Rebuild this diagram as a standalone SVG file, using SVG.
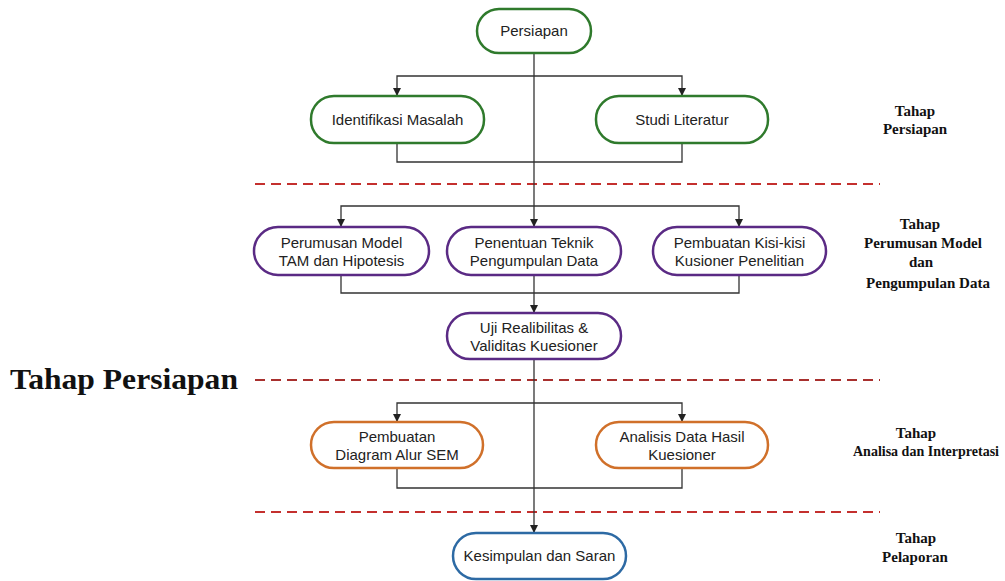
<svg xmlns="http://www.w3.org/2000/svg" width="1005" height="581" viewBox="0 0 1005 581">
<defs>
<marker id="ah" markerWidth="8" markerHeight="8" refX="8" refY="4" orient="auto" markerUnits="userSpaceOnUse">
<path d="M0,0 L8,4 L0,8 Z" fill="#222"/>
</marker>
<style>
.n{fill:#fff;stroke-width:2.5}
.g{stroke:#2f7a2c}
.p{stroke:#5a2a84}
.o{stroke:#d0702a}
.b{stroke:#2d6aa4}
.t{font-family:"Liberation Sans",Arial,sans-serif;font-size:15px;fill:#222;text-anchor:middle}
.c{fill:none;stroke:#333;stroke-width:1.3}
.d{stroke:#c4302e;stroke-width:2;stroke-dasharray:10 6;fill:none}
.l{font-family:"Liberation Serif","Times New Roman",serif;font-weight:bold;font-size:15px;fill:#111;text-anchor:middle}
</style>
</defs>
<rect width="1005" height="581" fill="#fff"/>

<g id="dividers">
<line class="d" x1="255" y1="184" x2="880" y2="184"/>
<line class="d" x1="255" y1="380" x2="880" y2="380" style="stroke:#a8302e"/>
<line class="d" x1="255" y1="512" x2="880" y2="512"/>
</g>

<g id="connectors">
<path class="c" d="M534,53 V227" marker-end="url(#ah)"/>
<path class="c" d="M534,76 H397 V96" marker-end="url(#ah)"/>
<path class="c" d="M534,76 H682 V96" marker-end="url(#ah)"/>
<path class="c" d="M397,143 V162 H682 V143"/>
<path class="c" d="M534,206 H341 V227" marker-end="url(#ah)"/>
<path class="c" d="M534,206 H739 V227" marker-end="url(#ah)"/>
<path class="c" d="M341,275 V293 H739 V275"/>
<path class="c" d="M534,275 V313" marker-end="url(#ah)"/>
<path class="c" d="M534,359 V533" marker-end="url(#ah)"/>
<path class="c" d="M534,403 H397 V422" marker-end="url(#ah)"/>
<path class="c" d="M534,403 H682 V422" marker-end="url(#ah)"/>
<path class="c" d="M397,468 V488 H682 V468"/>
</g>

<g id="persiapan">
<rect class="n g" x="477" y="9" width="114" height="44" rx="22"/>
<text class="t" x="534" y="36">Persiapan</text>
</g>
<g id="identifikasi">
<rect class="n g" x="311" y="96" width="173" height="47" rx="23"/>
<text class="t" x="397.5" y="125">Identifikasi Masalah</text>
</g>
<g id="studi">
<rect class="n g" x="596" y="96" width="172" height="47" rx="23"/>
<text class="t" x="682" y="125">Studi Literatur</text>
</g>

<g id="perumusan">
<rect class="n p" x="254" y="227" width="175" height="48" rx="24"/>
<text class="t" x="341.5" y="248">Perumusan Model</text>
<text class="t" x="341.5" y="266">TAM dan Hipotesis</text>
</g>
<g id="penentuan">
<rect class="n p" x="447" y="227" width="174" height="48" rx="24"/>
<text class="t" x="534" y="248">Penentuan Teknik</text>
<text class="t" x="534" y="266">Pengumpulan Data</text>
</g>
<g id="kisi">
<rect class="n p" x="653" y="227" width="173" height="48" rx="24"/>
<text class="t" x="739.5" y="248">Pembuatan Kisi-kisi</text>
<text class="t" x="739.5" y="266">Kusioner Penelitian</text>
</g>
<g id="uji">
<rect class="n p" x="447" y="313" width="174" height="46" rx="23"/>
<text class="t" x="534" y="333">Uji Realibilitas &amp;</text>
<text class="t" x="534" y="351">Validitas Kuesioner</text>
</g>

<g id="sem">
<rect class="n o" x="311" y="422" width="172" height="46" rx="23"/>
<text class="t" x="397" y="442">Pembuatan</text>
<text class="t" x="397" y="460">Diagram Alur SEM</text>
</g>
<g id="analisis">
<rect class="n o" x="596" y="422" width="172" height="46" rx="23"/>
<text class="t" x="682" y="442">Analisis Data Hasil</text>
<text class="t" x="682" y="460">Kuesioner</text>
</g>

<g id="kesimpulan">
<rect class="n b" x="453" y="533" width="173" height="46" rx="23"/>
<text class="t" x="539.5" y="561">Kesimpulan dan Saran</text>
</g>

<g id="labels">
<text class="l" x="915" y="116">Tahap</text>
<text class="l" x="915" y="134">Persiapan</text>
<text class="l" x="920" y="229">Tahap</text>
<text class="l" x="923" y="248">Perumusan Model</text>
<text class="l" x="921" y="267">dan</text>
<text class="l" x="928" y="288">Pengumpulan Data</text>
<text class="l" x="916" y="438">Tahap</text>
<text class="l" x="926" y="456" style="font-size:14px">Analisa dan Interpretasi</text>
<text class="l" x="916" y="543">Tahap</text>
<text class="l" x="915" y="562">Pelaporan</text>
<text x="10" y="389" font-family="'Liberation Serif','Times New Roman',serif" font-weight="bold" font-size="29" fill="#111" textLength="228" lengthAdjust="spacingAndGlyphs">Tahap Persiapan</text>
</g>
</svg>
